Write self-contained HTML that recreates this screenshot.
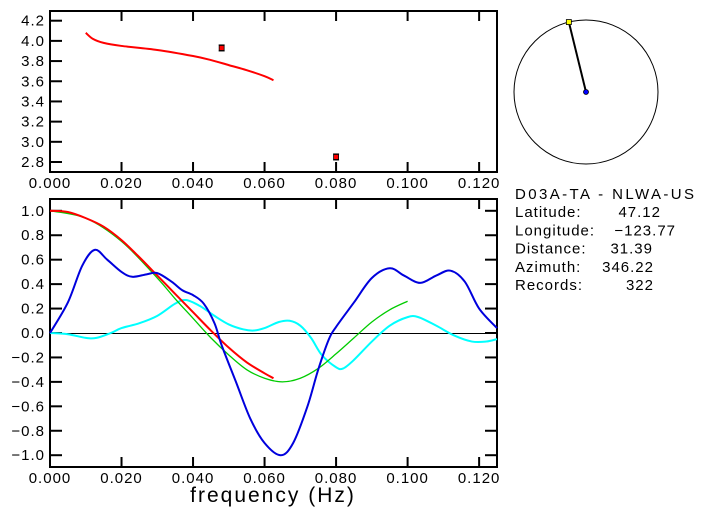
<!DOCTYPE html>
<html><head><meta charset="utf-8"><style>
body{margin:0;background:#fff;}
svg{display:block;font-family:"Liberation Sans",sans-serif;}
</style></head><body>
<svg id="c" width="707" height="519" viewBox="0 0 707 519"></svg>
<script>
const xTicks=[0,0.02,0.04,0.06,0.08,0.1,0.12];
const xTickLabels=["0.000","0.020","0.040","0.060","0.080","0.100","0.120"];
const topYTicks=[2.8,3.0,3.2,3.4,3.6,3.8,4.0,4.2];
const botYTicks=[-1,-0.8,-0.6,-0.4,-0.2,0,0.2,0.4,0.6,0.8,1.0];
const topRedF=[0.01,0.012,0.015,0.02,0.03,0.04,0.045,0.05,0.055,0.06,0.0625];
const topRedV=[4.08,4.02,3.98,3.95,3.91,3.85,3.81,3.76,3.71,3.65,3.61];
const topPtsF=[0.048,0.08];
const topPtsV=[3.93,2.85];
const blueF=[0,0.005,0.009,0.0125,0.016,0.02,0.023,0.027,0.03,0.034,0.037,0.04,0.043,0.046,0.048,0.052,0.056,0.06,0.0645,0.068,0.072,0.075,0.078,0.08,0.085,0.09,0.095,0.099,0.1035,0.108,0.112,0.116,0.12,0.125];
const blueV=[0,0.25,0.55,0.68,0.6,0.5,0.46,0.48,0.49,0.42,0.35,0.31,0.24,0.08,-0.1,-0.4,-0.7,-0.9,-1.0,-0.9,-0.6,-0.3,-0.05,0.05,0.25,0.45,0.53,0.47,0.41,0.47,0.51,0.42,0.2,0.04];
const redF=[0,0.005,0.01,0.015,0.02,0.025,0.03,0.035,0.04,0.045,0.05,0.055,0.06,0.0625];
const redV=[1,0.99,0.94,0.87,0.76,0.62,0.47,0.32,0.17,0.02,-0.12,-0.24,-0.33,-0.37];
const greenF=[0,0.01,0.02,0.03,0.035,0.04,0.045,0.05,0.055,0.06,0.065,0.07,0.075,0.08,0.085,0.09,0.095,0.1];
const greenV=[1,0.94,0.75,0.45,0.28,0.12,-0.04,-0.18,-0.3,-0.37,-0.4,-0.37,-0.29,-0.17,-0.04,0.09,0.19,0.26];
const cyanF=[0,0.005,0.01,0.013,0.017,0.02,0.025,0.03,0.035,0.038,0.042,0.046,0.05,0.054,0.057,0.06,0.064,0.067,0.07,0.073,0.076,0.08,0.082,0.085,0.09,0.095,0.1,0.103,0.108,0.113,0.118,0.122,0.125];
const cyanV=[0,-0.01,-0.04,-0.04,0,0.04,0.08,0.14,0.24,0.27,0.22,0.14,0.07,0.03,0.02,0.04,0.09,0.1,0.06,-0.04,-0.18,-0.28,-0.29,-0.22,-0.07,0.06,0.13,0.13,0.06,-0.02,-0.07,-0.07,-0.05];
const azimuth=346.22;

const NS="http://www.w3.org/2000/svg";
const svg=document.getElementById('c');
function mk(t,a,p){const e=document.createElementNS(NS,t);for(const k in a)e.setAttribute(k,a[k]);(p||svg).appendChild(e);return e;}
const X0=50,X1=497;
const sx=f=>X0+f*(X1-X0)/0.125;
const syTop=v=>20.7+(4.2-v)*(162-20.7)/1.4;
const syBot=v=>333-v*122.2;
function smooth(xs,ys){
  const p=xs.map((x,i)=>[x,ys[i]]);let d="M"+p[0][0]+","+p[0][1];
  for(let i=0;i<p.length-1;i++){const a=p[Math.max(0,i-1)],b=p[i],c=p[i+1],e=p[Math.min(p.length-1,i+2)];
    d+=` C${b[0]+(c[0]-a[0])/6},${b[1]+(c[1]-a[1])/6} ${c[0]-(e[0]-b[0])/6},${c[1]-(e[1]-b[1])/6} ${c[0]},${c[1]}`;}
  return d;}
function frame(y0,y1,name){
  const r=mk('rect',{x:X0,y:y0,width:X1-X0,height:y1-y0,fill:'none',stroke:'#000','stroke-width':2});
  
  xTicks.forEach((t,i)=>{const x=sx(t);
    mk('line',{x1:x,x2:x,y1:y0,y2:y0+10,stroke:'#000','stroke-width':2});
    mk('line',{x1:x,x2:x,y1:y1,y2:y1-10,stroke:'#000','stroke-width':2});
    const tx=mk('text',{x:x,y:y1+16,'font-size':15,'text-anchor':'middle','letter-spacing':1});tx.textContent=xTickLabels[i];
    });
}
// top plot
frame(11,172,'top-plot-frame');
topYTicks.forEach(v=>{const y=syTop(v);
  mk('line',{x1:X0,x2:X0+12,y1:y,y2:y,stroke:'#000','stroke-width':2});
  const t=mk('text',{x:45,y:y+5,'font-size':15,'text-anchor':'end','letter-spacing':1});t.textContent=v.toFixed(1);
  });
const tr=mk('path',{d:smooth(topRedF.map(sx),topRedV.map(syTop)),fill:'none',stroke:'#f00','stroke-width':2});

topPtsF.forEach((f,i)=>{const x=sx(f),y=syTop(topPtsV[i]);
  mk('line',{x1:x-3,x2:x+3,y1:y-3,y2:y-3,stroke:'#000'});mk('line',{x1:x-3,x2:x+3,y1:y+3,y2:y+3,stroke:'#000'});
  const r=mk('rect',{x:x-2.5,y:y-2.5,width:5,height:5,fill:'#f00',stroke:'#000','stroke-width':0.8});
  });
// bottom plot
frame(199,467,'bottom-plot-frame');
botYTicks.forEach(v=>{const y=syBot(v);
  mk('line',{x1:X0,x2:X0+12,y1:y,y2:y,stroke:'#000','stroke-width':2});
  mk('line',{x1:X1,x2:X1-12,y1:y,y2:y,stroke:'#000','stroke-width':2});
  const t=mk('text',{x:45,y:y+5,'font-size':15,'text-anchor':'end','letter-spacing':1});t.textContent=(Math.abs(v)<1e-9?0:v).toFixed(1).replace('-','−');
  });
const zy=Math.round(syBot(0))+0.5;
mk('line',{x1:X0,x2:X1,y1:zy,y2:zy,stroke:'#000','stroke-width':1});
[[cyanF,cyanV,'#0ff','cyan-curve',2],[greenF,greenV,'#0c0','green-curve',1.3],[redF,redV,'#f00','red-curve',2],[blueF,blueV,'#00d','blue-curve',2]].forEach(s=>{
  const p=mk('path',{d:smooth(s[0].map(sx),s[1].map(syBot)),fill:'none',stroke:s[2],'stroke-width':s[4]});
  });
const xl=mk('text',{x:273,y:502,'font-size':21,'text-anchor':'middle','letter-spacing':2});xl.textContent='frequency (Hz)';

// compass
const cx=586,cy=92,R=72;
const ci=mk('circle',{cx:cx,cy:cy,r:R,fill:'none',stroke:'#000','stroke-width':1});

const a=azimuth*Math.PI/180,px=cx+R*Math.sin(a),py=cy-R*Math.cos(a);
mk('line',{x1:cx,y1:cy,x2:px,y2:py,stroke:'#000','stroke-width':2});
const yp=mk('rect',{x:px-2.5,y:py-2.5,width:5,height:5,fill:'#ff0',stroke:'#000','stroke-width':0.8});

const bp=mk('circle',{cx:cx,cy:cy,r:2.5,fill:'#00f',stroke:'#000','stroke-width':0.8});

// info
const info=[["D03A-TA  -  NLWA-US",""],["Latitude:","47.12"],["Longitude:","−123.77"],["Distance:","31.39"],["Azimuth:","346.22"],["Records:","322"]];
const valX=[0,661,676,653,654,654];
info.forEach((r,i)=>{const y=199+i*18.2;
  const t=mk('text',{x:515,y:y,'font-size':15,'letter-spacing':1});t.textContent=r[0];
  if(i===0){t.setAttribute('textLength',180);t.setAttribute('lengthAdjust','spacing');}
  
  if(r[1]){const v=mk('text',{x:valX[i],y:y,'font-size':15,'text-anchor':'end','letter-spacing':1});v.textContent=r[1];
  }});
</script>
</body></html>
